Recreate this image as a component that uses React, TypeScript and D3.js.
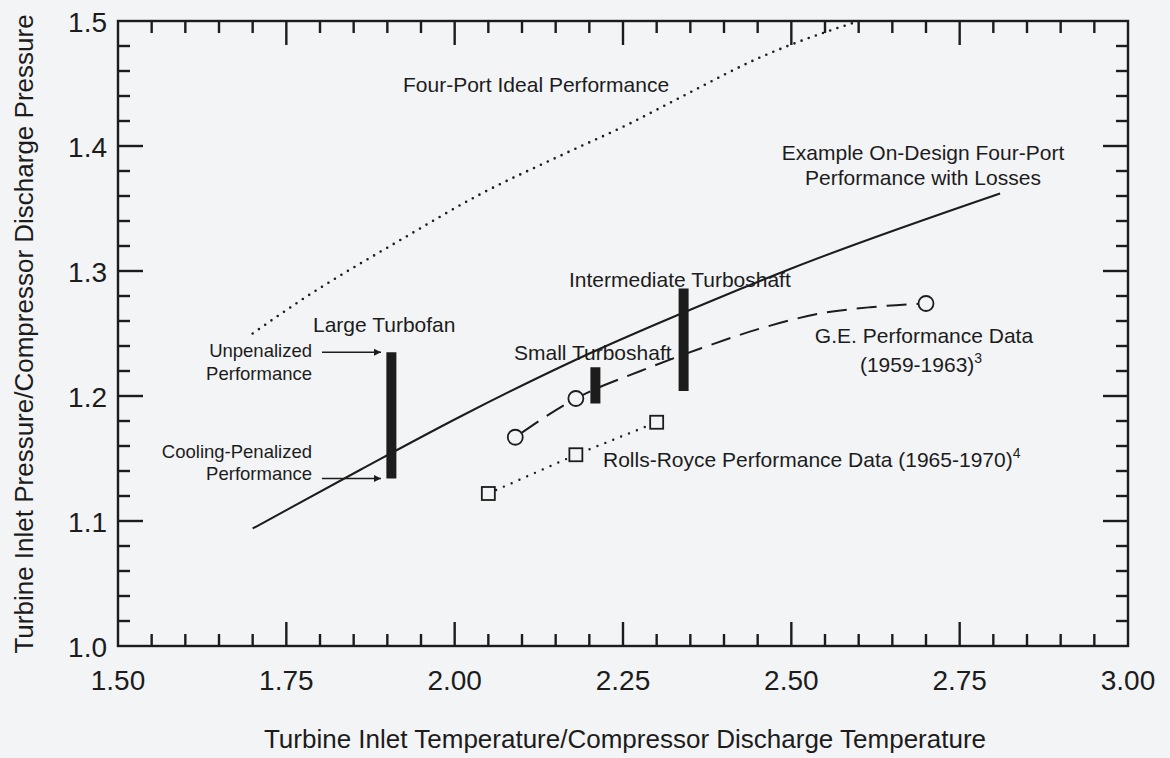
import React from 'react';
import * as d3 from 'd3';

// ---- data ----
const xTickLabels = ['1.50', '1.75', '2.00', '2.25', '2.50', '2.75', '3.00'];
const yTickLabels = ['1.0', '1.1', '1.2', '1.3', '1.4', '1.5'];

const idealX = [1.70, 1.77, 1.92, 2.04, 2.16, 2.26, 2.35, 2.45, 2.55, 2.595];
const idealY = [1.250, 1.276, 1.325, 1.362, 1.393, 1.418, 1.443, 1.470, 1.491, 1.499];

const lossesX = [1.70, 1.86, 2.01, 2.18, 2.39, 2.50, 2.81];
const lossesY = [1.094, 1.141, 1.184, 1.229, 1.278, 1.302, 1.362];

const geX = [2.09, 2.18, 2.70];
const geY = [1.167, 1.198, 1.274];
const geTrendX = [2.09, 2.18, 2.276, 2.365, 2.454, 2.543, 2.617, 2.70];
const geTrendY = [1.167, 1.198, 1.220, 1.238, 1.254, 1.266, 1.271, 1.274];

const rrX = [2.05, 2.18, 2.30];
const rrY = [1.122, 1.153, 1.179];

const engineNames = ['Large Turbofan', 'Small Turboshaft', 'Intermediate Turboshaft'];
const engineX = [1.906, 2.209, 2.34];
const engineLow = [1.134, 1.194, 1.204];
const engineHigh = [1.235, 1.223, 1.286];

// ---- layout ----
const W = 1170, H = 758;
const x = d3.scaleLinear().domain([1.5, 3.0]).range([118, 1128]);
const y = d3.scaleLinear().domain([1.0, 1.5]).range([646, 21]);
const FONT = '"Liberation Sans", Arial, Helvetica, sans-serif';
const INK = '#1c1c1c';
const BG = '#f3f4f6';

const zip = (a: number[], b: number[]) => a.map((v, i) => [v, b[i]] as [number, number]);

export default function App() {
  const line = d3.line<[number, number]>().x(d => x(d[0])).y(d => y(d[1])).curve(d3.curveMonotoneX);
  const straight = d3.line<[number, number]>().x(d => x(d[0])).y(d => y(d[1]));

  const xMinor = d3.range(0, 31).map(i => 1.5 + i * 0.05);
  const yMinor = d3.range(0, 26).map(i => 1.0 + i * 0.02);
  const isMajorX = (v: number) => Math.abs(v * 4 - Math.round(v * 4)) < 1e-6;
  const isMajorY = (v: number) => Math.abs(v * 10 - Math.round(v * 10)) < 1e-6;

  const [x0, x1] = x.range();
  const [y0, y1] = y.range();

  const tickEls: React.ReactNode[] = [];
  xMinor.forEach((v, i) => {
    if (i === 0 || i === xMinor.length - 1) return;
    const L = isMajorX(v) ? 24 : 12;
    const px = x(v);
    tickEls.push(<line key={'xb' + i} x1={px} x2={px} y1={y0} y2={y0 - L} />);
    tickEls.push(<line key={'xt' + i} x1={px} x2={px} y1={y1} y2={y1 + L} />);
  });
  yMinor.forEach((v, i) => {
    if (i === 0 || i === yMinor.length - 1) return;
    const L = isMajorY(v) ? 25 : 12;
    const py = y(v);
    tickEls.push(<line key={'yl' + i} x1={x0} x2={x0 + L} y1={py} y2={py} />);
    tickEls.push(<line key={'yr' + i} x1={x1} x2={x1 - L} y1={py} y2={py} />);
  });

  const labelStyle = { fontFamily: FONT, fill: INK } as const;

  return (
    <svg width={W} height={H} style={{ position: 'absolute', left: 0, top: 0 }}>
      <defs>
        <marker id="arr" viewBox="0 0 10 10" refX="10" refY="5" markerWidth="10" markerHeight="7" markerUnits="userSpaceOnUse" orient="auto">
          <path d="M0,0 L10,5 L0,10 z" fill={INK} />
        </marker>
      </defs>
      <rect x={0} y={0} width={W} height={H} fill={BG} />

      {/* frame and ticks */}
      <g stroke={INK} strokeWidth={2.4} fill="none">
        <rect x={x0} y={y1} width={x1 - x0} height={y0 - y1} />
        {tickEls}
      </g>

      {/* tick labels */}
      <g style={labelStyle} fontSize={28}>
        {xTickLabels.map(t => (
          <text key={'xl' + t} x={x(+t)} y={690} textAnchor="middle">{t}</text>
        ))}
        {yTickLabels.map(t => (
          <text key={'yl' + t} x={107} y={y(+t) + 11} textAnchor="end">{t}</text>
        ))}
      </g>

      {/* axis titles */}
      <text x={(x0 + x1) / 2 + 2} y={748} textAnchor="middle" fontSize={26} style={labelStyle}>
        Turbine Inlet Temperature/Compressor Discharge Temperature
      </text>
      <text transform={`translate(33, ${334}) rotate(-90)`} textAnchor="middle" fontSize={26} style={labelStyle}>
        Turbine Inlet Pressure/Compressor Discharge Pressure
      </text>

      {/* ideal performance (dotted) */}
      <path d={line(zip(idealX, idealY)) || ''} fill="none" stroke={INK} strokeWidth={2.6}
        strokeDasharray="0 7.6" strokeLinecap="round" />

      {/* on-design with losses (solid) */}
      <path d={line(zip(lossesX, lossesY)) || ''} fill="none" stroke={INK} strokeWidth={2} />

      {/* Rolls-Royce (dotted) */}
      <path d={straight(zip(rrX, rrY)) || ''} fill="none" stroke={INK} strokeWidth={2.4}
        strokeDasharray="0 8.5" strokeLinecap="round" />

      {/* GE trend (dashed) */}
      <path d={line(zip(geTrendX, geTrendY)) || ''} fill="none" stroke={INK} strokeWidth={2}
        strokeDasharray="20 10" strokeDashoffset={-8} />

      {/* engine bars */}
      {engineX.map((v, i) => (
        <rect key={'bar' + i} x={x(v) - 5} y={y(engineHigh[i])} width={10}
          height={y(engineLow[i]) - y(engineHigh[i])} fill={INK} />
      ))}

      {/* markers */}
      {geX.map((v, i) => (
        <circle key={'ge' + i} cx={x(v)} cy={y(geY[i])} r={7.5} fill={BG} stroke={INK} strokeWidth={1.8} />
      ))}
      {rrX.map((v, i) => (
        <rect key={'rr' + i} x={x(v) - 6.5} y={y(rrY[i]) - 6.5} width={13} height={13} fill={BG} stroke={INK} strokeWidth={1.8} />
      ))}

      {/* annotations */}
      <g style={labelStyle} fontSize={21}>
        <text x={403} y={92}>Four-Port Ideal Performance</text>
        <text x={923} y={160} textAnchor="middle">Example On-Design Four-Port</text>
        <text x={923} y={185} textAnchor="middle">Performance with Losses</text>
        <text x={569} y={287}>{engineNames[2]}</text>
        <text x={313} y={332}>{engineNames[0]}</text>
        <text x={514} y={360}>{engineNames[1]}</text>
        <text x={924} y={343} textAnchor="middle">G.E. Performance Data</text>
        <text x={921} y={372} textAnchor="middle">(1959-1963)<tspan fontSize={14} dy={-9}>3</tspan></text>
        <text x={603} y={467}>Rolls-Royce Performance Data (1965-1970)<tspan fontSize={14} dy={-9}>4</tspan></text>
      </g>
      <g style={labelStyle} fontSize={18.5} textAnchor="end">
        <text x={312} y={357}>Unpenalized</text>
        <text x={312} y={380}>Performance</text>
        <text x={312} y={458}>Cooling-Penalized</text>
        <text x={312} y={480}>Performance</text>
      </g>
      <g stroke={INK} strokeWidth={1.6}>
        <line x1={322} x2={381} y1={y(engineHigh[0])} y2={y(engineHigh[0])} markerEnd="url(#arr)" />
        <line x1={322} x2={381} y1={y(engineLow[0])} y2={y(engineLow[0])} markerEnd="url(#arr)" />
      </g>
    </svg>
  );
}
